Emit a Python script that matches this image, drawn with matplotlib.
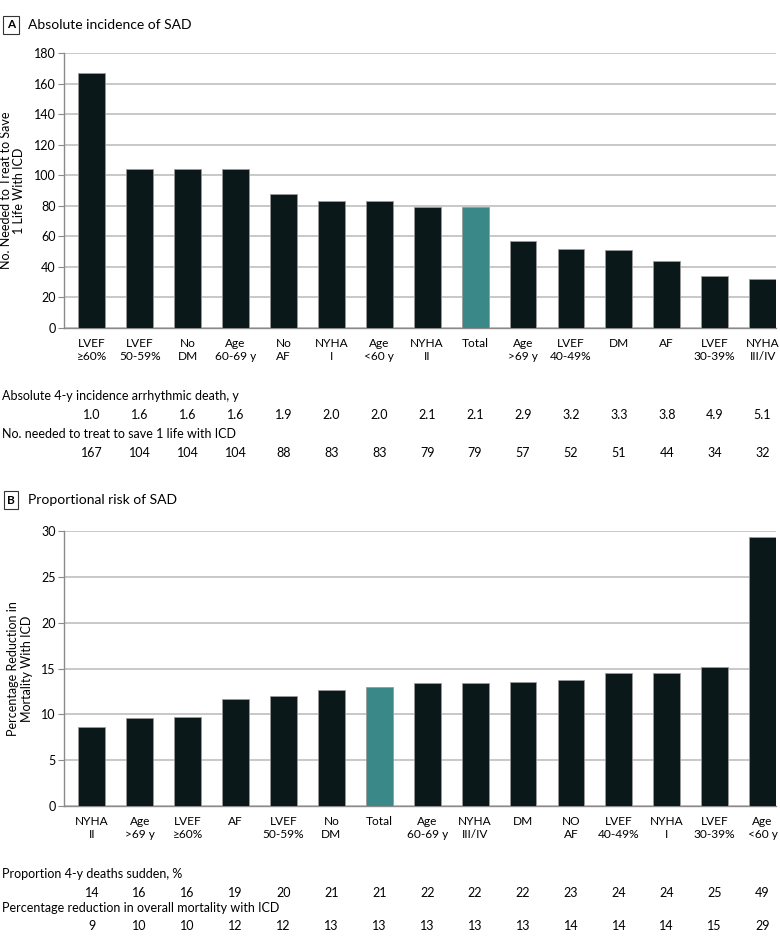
import numpy as np
import matplotlib.pyplot as plt
import matplotlib.transforms as mtransforms

plt.rcParams["font.family"] = ["Lato", "DejaVu Sans"]

# panel A data
cats_a = ["LVEF\n≥60%", "LVEF\n50-59%", "No\nDM", "Age\n60-69 y", "No\nAF", "NYHA\nI",
          "Age\n<60 y", "NYHA\nII", "Total", "Age\n>69 y", "LVEF\n40-49%", "DM", "AF",
          "LVEF\n30-39%", "NYHA\nIII/IV"]
nnt_a = [167, 104, 104, 104, 88, 83, 83, 79, 79, 57, 52, 51, 44, 34, 32]
incid_a = ["1.0", "1.6", "1.6", "1.6", "1.9", "2.0", "2.0", "2.1", "2.1", "2.9", "3.2",
           "3.3", "3.8", "4.9", "5.1"]

# panel B data
cats_b = ["NYHA\nII", "Age\n>69 y", "LVEF\n≥60%", "AF", "LVEF\n50-59%", "No\nDM", "Total",
          "Age\n60-69 y", "NYHA\nIII/IV", "DM", "NO\nAF", "LVEF\n40-49%", "NYHA\nI",
          "LVEF\n30-39%", "Age\n<60 y"]
red_b = [8.6, 9.6, 9.7, 11.7, 12.0, 12.7, 13.0, 13.4, 13.4, 13.5, 13.8, 14.5, 14.5, 15.2, 29.3]
sudden_b = [14, 16, 16, 19, 20, 21, 21, 22, 22, 22, 23, 24, 24, 25, 49]
red_round_b = [9, 10, 10, 12, 12, 13, 13, 13, 13, 13, 14, 14, 14, 15, 29]

dark = "#0a1819"
teal = "#3a8888"
grid_c = "#c4c4c4"
spine_c = "#8a8a8a"
fs = 9

W, H = 780, 949
fig = plt.figure(figsize=(W / 100, H / 100), dpi=100)


def fy(py):
    return 1 - py / H


def panel(top, bottom, cats, vals, ymax, ystep, ylabel, letter, title, ty, rows):
    ax = fig.add_axes([64 / W, fy(bottom), 712 / W, (bottom - top) / H])
    x = np.arange(len(vals))
    colors = [teal if c == "Total" else dark for c in cats]
    ax.bar(x, vals, width=0.56, color=colors, edgecolor="#9a9a9a", linewidth=0.6, zorder=3)
    ax.set_xlim(-0.58, 14.28)
    ax.set_ylim(0, ymax)
    ax.set_yticks(np.arange(0, ymax + 1, ystep))
    ax.yaxis.grid(True, color=grid_c, linewidth=1.3, zorder=0)
    ax.set_axisbelow(True)
    for s in ["top", "right"]:
        ax.spines[s].set_visible(False)
    for s in ["left", "bottom"]:
        ax.spines[s].set_color(spine_c)
        ax.spines[s].set_linewidth(1.0)
    ax.tick_params(axis="y", length=4, color=spine_c, labelsize=fs, pad=2)
    ax.tick_params(axis="x", length=0, pad=7)
    ax.set_xticks(x)
    ax.set_xticklabels(cats, fontsize=8.6, linespacing=1.25)
    ax.set_ylabel(ylabel, fontsize=fs, linespacing=1.15, labelpad=6)

    # panel header
    fig.text(11 / W, fy(ty), letter, fontsize=8.5, fontweight="bold", ha="center", va="center",
             bbox=dict(boxstyle="square,pad=0.3", fc="white", ec="#333333", lw=0.8))
    fig.text(28 / W, fy(ty), title, fontsize=10, ha="left", va="center")

    tr = mtransforms.blended_transform_factory(ax.transData, fig.transFigure)
    for label, ly, values, vy in rows:
        fig.text(2 / W, fy(ly), label, fontsize=fs, ha="left", va="center")
        for i, v in enumerate(values):
            ax.text(i, fy(vy), str(v), transform=tr, fontsize=fs, ha="center", va="center")
    return ax


panel(53, 328, cats_a, nnt_a, 180, 20, "No. Needed to Treat to Save\n1 Life With ICD",
      "A", "Absolute incidence of SAD", 25,
      [("Absolute 4-y incidence arrhythmic death, y", 396, incid_a, 415),
       ("No. needed to treat to save 1 life with ICD", 434, nnt_a, 453)])

panel(531, 806, cats_b, red_b, 30, 5, "Percentage Reduction in\nMortality With ICD",
      "B", "Proportional risk of SAD", 500,
      [("Proportion 4-y deaths sudden, %", 874, sudden_b, 893),
       ("Percentage reduction in overall mortality with ICD", 908, red_round_b, 926)])

fig.savefig("out.png", dpi=100)
